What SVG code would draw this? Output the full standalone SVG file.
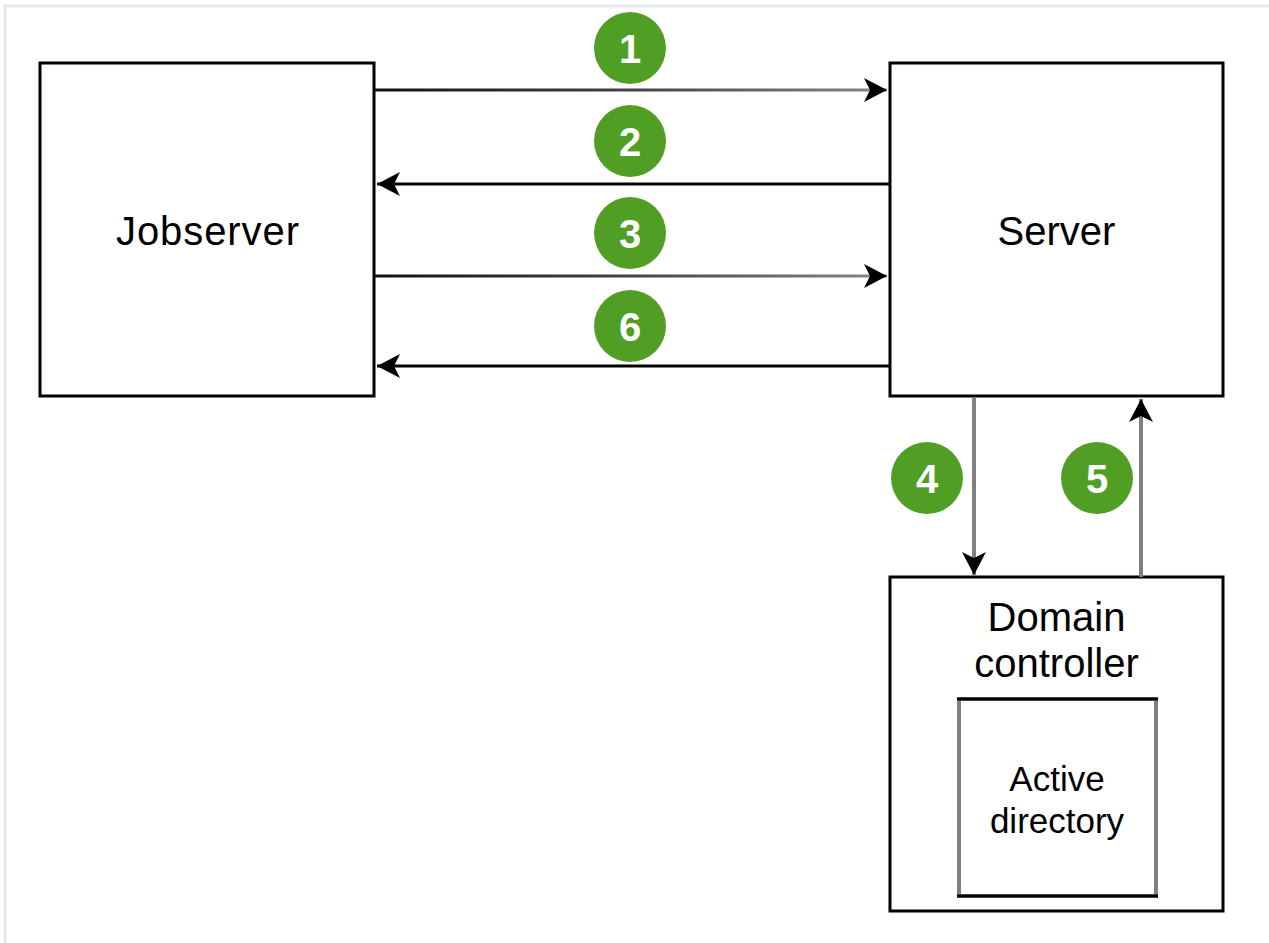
<svg xmlns="http://www.w3.org/2000/svg" width="1269" height="943" viewBox="0 0 1269 943">
<style>
.box{fill:#fff;stroke:#000;stroke-width:3}
.lbl{font-family:"Liberation Sans",Arial,sans-serif;font-size:40px;fill:#000;text-anchor:middle}
.sm{font-size:35px}
.badge circle{fill:#519e25}
.badge text{font-family:"Liberation Sans",Arial,sans-serif;font-size:40px;font-weight:bold;fill:#fff;text-anchor:middle}
.conn{fill:none;stroke-width:3}
.vconn{fill:none;stroke-width:4;stroke:#808080}
</style>
<defs>
<marker id="ah" markerUnits="userSpaceOnUse" markerWidth="24" markerHeight="24" viewBox="0 0 24 24" refX="23" refY="12" orient="auto">
<path d="M0,0 L23,12 L0,24 L6,12 Z" fill="#000"/>
</marker>
<linearGradient id="gr" gradientUnits="userSpaceOnUse" x1="375" y1="0" x2="887" y2="0">
<stop offset="0" stop-color="#111"/>
<stop offset="0.5" stop-color="#444"/>
<stop offset="1" stop-color="#888"/>
</linearGradient>
</defs>
<rect x="5" y="6" width="1300" height="1000" fill="#fff" stroke="#e3e8eb" stroke-width="3"/>
<g id="jobserver">
<rect class="box" x="40" y="63" width="334" height="333"/>
<text class="lbl" x="207.5" y="245" textLength="183" lengthAdjust="spacing">Jobserver</text>
</g>
<g id="server">
<rect class="box" x="890" y="63" width="333" height="333"/>
<text class="lbl" x="1056.5" y="245">Server</text>
</g>
<g id="domain-controller">
<rect class="box" x="890" y="577" width="333" height="334"/>
<text class="lbl" x="1056.5" y="631">Domain</text>
<text class="lbl" x="1056.5" y="677">controller</text>
</g>
<g id="active-directory">
<rect x="959" y="699" width="197" height="197" fill="#fff" stroke="#808080" stroke-width="4"/>
<line x1="957" y1="699" x2="1158" y2="699" stroke="#000" stroke-width="3"/>
<line x1="957" y1="896" x2="1158" y2="896" stroke="#000" stroke-width="3"/>
<text class="lbl sm" x="1057" y="791">Active</text>
<text class="lbl sm" x="1057" y="833">directory</text>
</g>
<g id="connectors">
<line class="conn" x1="375" y1="90" x2="887" y2="90" stroke="url(#gr)" marker-end="url(#ah)"/>
<line class="conn" x1="889" y1="184" x2="377" y2="184" stroke="#000" marker-end="url(#ah)"/>
<line class="conn" x1="375" y1="276" x2="887" y2="276" stroke="url(#gr)" marker-end="url(#ah)"/>
<line class="conn" x1="889" y1="366" x2="377" y2="366" stroke="#000" marker-end="url(#ah)"/>
<line class="vconn" x1="974" y1="397" x2="974" y2="575" marker-end="url(#ah)"/>
<line class="vconn" x1="1141" y1="577" x2="1141" y2="399" marker-end="url(#ah)"/>
</g>
<g id="badge-1" class="badge"><circle cx="630" cy="48" r="36"/><text x="630" y="63">1</text></g>
<g id="badge-2" class="badge"><circle cx="630" cy="141" r="36"/><text x="630" y="156">2</text></g>
<g id="badge-3" class="badge"><circle cx="630" cy="233" r="36"/><text x="630" y="248">3</text></g>
<g id="badge-6" class="badge"><circle cx="630" cy="326" r="36"/><text x="630" y="341">6</text></g>
<g id="badge-4" class="badge"><circle cx="927" cy="478" r="36"/><text x="927" y="493">4</text></g>
<g id="badge-5" class="badge"><circle cx="1097" cy="478" r="36"/><text x="1097" y="493">5</text></g>
</svg>
